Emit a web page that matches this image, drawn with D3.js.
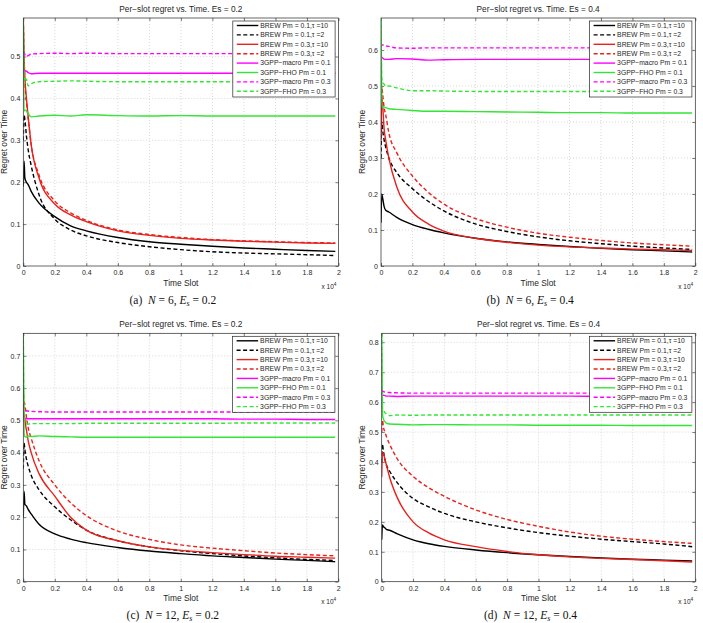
<!DOCTYPE html>
<html>
<head>
<meta charset="utf-8">
<script src="https://cdn.jsdelivr.net/npm/d3@7"></script>
<style>
  body { margin: 0; background: #fff; }
</style>
</head>
<body>
<div id="chart"></div>
<script>
'use strict';

// time slot sample points (units of 1e4)
const timeSlots = [0, 0.005, 0.01, 0.02, 0.03, 0.05, 0.1, 0.2, 0.3, 0.4, 0.6, 0.8, 1.0, 1.2, 1.4, 1.6, 1.8, 1.98];

const xTicks = [0, 0.2, 0.4, 0.6, 0.8, 1, 1.2, 1.4, 1.6, 1.8, 2];

const legendLabels = [
    "BREW Pm = 0.1,\u03c4 =10",
    "BREW Pm = 0.1,\u03c4 =2",
    "BREW Pm = 0.3,\u03c4 =10",
    "BREW Pm = 0.3,\u03c4 =2",
    "3GPP\u2212macro Pm = 0.1",
    "3GPP\u2212FHO Pm = 0.1",
    "3GPP\u2212macro Pm = 0.3",
    "3GPP\u2212FHO Pm = 0.3"
];

// (a) N = 6, Es = 0.2
const yTicksA = [0, 0.1, 0.2, 0.3, 0.4, 0.5];
const a_brew01t10 = [0.19, 0.25, 0.21, 0.2, 0.195, 0.178, 0.15, 0.118, 0.096, 0.084, 0.068, 0.058, 0.052, 0.047, 0.043, 0.04, 0.037, 0.035];
const a_brew01t2  = [0.3, 0.36, 0.35, 0.31, 0.28, 0.24, 0.17, 0.112, 0.086, 0.072, 0.056, 0.046, 0.039, 0.034, 0.031, 0.029, 0.027, 0.025];
const a_brew03t10 = [0.59, 0.5, 0.45, 0.4, 0.36, 0.29, 0.21, 0.148, 0.122, 0.106, 0.084, 0.073, 0.066, 0.062, 0.059, 0.057, 0.055, 0.054];
const a_brew03t2  = [0.59, 0.49, 0.44, 0.39, 0.355, 0.29, 0.217, 0.155, 0.127, 0.109, 0.086, 0.075, 0.068, 0.063, 0.06, 0.058, 0.056, 0.055];
const a_macro01   = [0.47, 0.465, 0.466, 0.465, 0.462, 0.459, 0.46, 0.46, 0.46, 0.46, 0.46, 0.46, 0.46, 0.46, 0.46, 0.46, 0.46, 0.46];
const a_fho01     = [0.59, 0.37, 0.372, 0.37, 0.365, 0.356, 0.358, 0.36, 0.358, 0.361, 0.359, 0.358, 0.359, 0.358, 0.358, 0.358, 0.358, 0.358];
const a_macro03   = [0.51, 0.51, 0.505, 0.5, 0.502, 0.506, 0.507, 0.508, 0.507, 0.508, 0.507, 0.507, 0.507, 0.507, 0.507, 0.507, 0.507, 0.507];
const a_fho03     = [0.59, 0.44, 0.447, 0.445, 0.43, 0.435, 0.44, 0.441, 0.442, 0.441, 0.44, 0.44, 0.44, 0.44, 0.44, 0.44, 0.44, 0.44];

// (b) N = 6, Es = 0.4
const yTicksB = [0, 0.1, 0.2, 0.3, 0.4, 0.5, 0.6];
const b_brew01t10 = [0.12, 0.2, 0.19, 0.165, 0.155, 0.15, 0.135, 0.115, 0.102, 0.092, 0.077, 0.067, 0.06, 0.054, 0.049, 0.045, 0.042, 0.039];
const b_brew01t2  = [0.3, 0.4, 0.38, 0.35, 0.33, 0.3, 0.26, 0.215, 0.18, 0.153, 0.117, 0.096, 0.081, 0.07, 0.062, 0.055, 0.05, 0.046];
const b_brew03t10 = [0.35, 0.47, 0.45, 0.38, 0.35, 0.3, 0.22, 0.15, 0.117, 0.097, 0.077, 0.066, 0.058, 0.053, 0.05, 0.047, 0.045, 0.043];
const b_brew03t2  = [0.4, 0.5, 0.48, 0.44, 0.42, 0.37, 0.315, 0.25, 0.205, 0.172, 0.132, 0.108, 0.091, 0.08, 0.071, 0.064, 0.059, 0.055];
const b_macro01   = [0.58, 0.58, 0.578, 0.575, 0.574, 0.574, 0.576, 0.575, 0.572, 0.573, 0.574, 0.574, 0.574, 0.574, 0.574, 0.574, 0.574, 0.574];
const b_fho01     = [0.69, 0.45, 0.44, 0.442, 0.44, 0.437, 0.435, 0.432, 0.43, 0.43, 0.429, 0.428, 0.427, 0.426, 0.426, 0.425, 0.425, 0.425];
const b_macro03   = [0.61, 0.615, 0.614, 0.615, 0.612, 0.61, 0.606, 0.605, 0.606, 0.606, 0.606, 0.606, 0.606, 0.606, 0.606, 0.606, 0.606, 0.606];
const b_fho03     = [0.69, 0.52, 0.51, 0.505, 0.5, 0.5, 0.495, 0.487, 0.487, 0.486, 0.485, 0.485, 0.485, 0.485, 0.485, 0.485, 0.485, 0.485];

// (c) N = 12, Es = 0.2
const yTicksC = [0, 0.1, 0.2, 0.3, 0.4, 0.5, 0.6, 0.7];
const c_brew01t10 = [0.2, 0.28, 0.24, 0.235, 0.225, 0.21, 0.178, 0.148, 0.132, 0.121, 0.106, 0.095, 0.087, 0.08, 0.075, 0.07, 0.066, 0.062];
const c_brew01t2  = [0.35, 0.43, 0.41, 0.38, 0.36, 0.33, 0.285, 0.232, 0.192, 0.16, 0.127, 0.108, 0.096, 0.087, 0.08, 0.074, 0.069, 0.066];
const c_brew03t10 = [0.55, 0.52, 0.5, 0.47, 0.44, 0.4, 0.335, 0.265, 0.2, 0.16, 0.127, 0.108, 0.097, 0.09, 0.084, 0.079, 0.076, 0.073];
const c_brew03t2  = [0.6, 0.56, 0.55, 0.51, 0.48, 0.445, 0.375, 0.3, 0.245, 0.205, 0.157, 0.131, 0.114, 0.104, 0.096, 0.089, 0.084, 0.08];
const c_macro01   = [0.52, 0.505, 0.506, 0.505, 0.505, 0.505, 0.505, 0.505, 0.505, 0.505, 0.505, 0.505, 0.505, 0.505, 0.504, 0.504, 0.503, 0.503];
const c_fho01     = [0.77, 0.46, 0.45, 0.448, 0.452, 0.45, 0.452, 0.45, 0.449, 0.448, 0.448, 0.448, 0.448, 0.448, 0.448, 0.448, 0.448, 0.448];
const c_macro03   = [0.55, 0.535, 0.532, 0.53, 0.529, 0.528, 0.527, 0.526, 0.526, 0.526, 0.526, 0.526, 0.526, 0.526, 0.526, 0.526, 0.526, 0.526];
const c_fho03     = [0.77, 0.5, 0.496, 0.49, 0.488, 0.49, 0.49, 0.49, 0.49, 0.491, 0.491, 0.491, 0.491, 0.491, 0.492, 0.492, 0.492, 0.492];

// (d) N = 12, Es = 0.4
const yTicksD = [0, 0.1, 0.2, 0.3, 0.4, 0.5, 0.6, 0.7, 0.8];
const d_brew01t10 = [0.14, 0.19, 0.185, 0.18, 0.175, 0.172, 0.16, 0.14, 0.127, 0.118, 0.106, 0.097, 0.09, 0.084, 0.079, 0.075, 0.072, 0.069];
const d_brew01t2  = [0.4, 0.46, 0.44, 0.41, 0.39, 0.37, 0.33, 0.278, 0.25, 0.228, 0.2, 0.18, 0.164, 0.152, 0.142, 0.134, 0.126, 0.117];
const d_brew03t10 = [0.35, 0.43, 0.43, 0.41, 0.39, 0.35, 0.28, 0.2, 0.163, 0.14, 0.117, 0.101, 0.09, 0.083, 0.078, 0.074, 0.07, 0.066];
const d_brew03t2  = [0.5, 0.54, 0.52, 0.5, 0.485, 0.46, 0.41, 0.352, 0.314, 0.285, 0.24, 0.208, 0.185, 0.166, 0.152, 0.142, 0.134, 0.128];
const d_macro01   = [0.63, 0.625, 0.623, 0.622, 0.62, 0.62, 0.619, 0.62, 0.62, 0.62, 0.62, 0.62, 0.62, 0.62, 0.619, 0.619, 0.618, 0.618];
const d_fho01     = [0.83, 0.56, 0.545, 0.535, 0.53, 0.527, 0.526, 0.524, 0.525, 0.525, 0.524, 0.524, 0.523, 0.523, 0.523, 0.522, 0.522, 0.522];
const d_macro03   = [0.64, 0.637, 0.635, 0.634, 0.633, 0.632, 0.631, 0.63, 0.63, 0.63, 0.63, 0.63, 0.63, 0.63, 0.63, 0.63, 0.63, 0.63];
const d_fho03     = [0.83, 0.58, 0.575, 0.565, 0.56, 0.555, 0.557, 0.556, 0.557, 0.557, 0.557, 0.557, 0.557, 0.557, 0.557, 0.557, 0.557, 0.557];

// line styles, same order as legendLabels
const RED = "#e8211d", GREEN = "#33e633", MAG = "#ff00ff", DASH = "4,2.5";
const lineStyles = [
    { color: "#000", dash: null }, { color: "#000", dash: DASH },
    { color: RED, dash: null },    { color: RED, dash: DASH },
    { color: MAG, dash: null },    { color: GREEN, dash: null },
    { color: MAG, dash: DASH },    { color: GREEN, dash: DASH }
];

const panels = [
    { key: "a", left: 23.3, right: 338.5, top: 18, bottom: 266, yMax: 0.592, yTicks: yTicksA, es: "0.2", n: "6",
      series: [a_brew01t10, a_brew01t2, a_brew03t10, a_brew03t2, a_macro01, a_fho01, a_macro03, a_fho03] },
    { key: "b", left: 381, right: 695.3, top: 18, bottom: 266, yMax: 0.689, yTicks: yTicksB, es: "0.4", n: "6",
      series: [b_brew01t10, b_brew01t2, b_brew03t10, b_brew03t2, b_macro01, b_fho01, b_macro03, b_fho03] },
    { key: "c", left: 23.3, right: 338.3, top: 333.3, bottom: 581.7, yMax: 0.77, yTicks: yTicksC, es: "0.2", n: "12",
      series: [c_brew01t10, c_brew01t2, c_brew03t10, c_brew03t2, c_macro01, c_fho01, c_macro03, c_fho03] },
    { key: "d", left: 381.7, right: 695.3, top: 333.3, bottom: 581.7, yMax: 0.83, yTicks: yTicksD, es: "0.4", n: "12",
      series: [d_brew01t10, d_brew01t2, d_brew03t10, d_brew03t2, d_macro01, d_fho01, d_macro03, d_fho03] }
];

const svg = d3.select("#chart").append("svg")
    .attr("width", 703)
    .attr("height", 623)
    .style("font-family", "'Liberation Sans', Arial, sans-serif");

const TXT = "#262626";

panels.forEach(p => {
    const x = d3.scaleLinear().domain([0, 2]).range([p.left, p.right]);
    const y = d3.scaleLinear().domain([0, p.yMax]).range([p.bottom, p.top]);
    const g = svg.append("g");

    g.append("clipPath").attr("id", "clip-" + p.key)
        .append("rect")
        .attr("x", p.left).attr("y", p.top)
        .attr("width", p.right - p.left).attr("height", p.bottom - p.top);

    // grid
    g.append("g").selectAll("line")
        .data(xTicks.slice(1, -1))
        .join("line")
        .attr("x1", d => x(d)).attr("x2", d => x(d))
        .attr("y1", p.top).attr("y2", p.bottom)
        .attr("stroke", "#bdbdbd").attr("stroke-width", 0.6).attr("stroke-dasharray", "1,2");
    g.append("g").selectAll("line")
        .data(p.yTicks.slice(1))
        .join("line")
        .attr("x1", p.left).attr("x2", p.right)
        .attr("y1", d => y(d)).attr("y2", d => y(d))
        .attr("stroke", "#bdbdbd").attr("stroke-width", 0.6).attr("stroke-dasharray", "1,2");

    // axes
    const fmt = d3.format("~g");
    const axB = g.append("g").attr("transform", `translate(0,${p.bottom})`)
        .call(d3.axisBottom(x).tickValues(xTicks).tickSize(-3).tickPadding(4).tickFormat(fmt));
    const axL = g.append("g").attr("transform", `translate(${p.left},0)`)
        .call(d3.axisLeft(y).tickValues(p.yTicks).tickSize(-3).tickPadding(3).tickFormat(fmt));
    const axT = g.append("g").attr("transform", `translate(0,${p.top})`)
        .call(d3.axisTop(x).tickValues(xTicks).tickSize(-3).tickFormat(""));
    const axR = g.append("g").attr("transform", `translate(${p.right},0)`)
        .call(d3.axisRight(y).tickValues(p.yTicks).tickSize(-3).tickFormat(""));
    [axB, axL, axT, axR].forEach(ax => {
        ax.select(".domain").remove();
        ax.selectAll(".tick line").attr("stroke", TXT).attr("stroke-width", 0.6);
        ax.selectAll("text").attr("fill", TXT).style("font-size", "7px").style("font-family", "'Liberation Sans', Arial, sans-serif");
    });

    // series
    const line = d3.line()
        .x((d, i) => x(timeSlots[i]))
        .y(d => y(d))
        .curve(d3.curveMonotoneX);
    g.append("g").attr("clip-path", `url(#clip-${p.key})`)
        .selectAll("path")
        .data(p.series)
        .join("path")
        .attr("d", line)
        .attr("fill", "none")
        .attr("stroke", (d, i) => lineStyles[i].color)
        .attr("stroke-width", 1.4)
        .attr("stroke-dasharray", (d, i) => lineStyles[i].dash);

    // box
    g.append("rect")
        .attr("x", p.left).attr("y", p.top)
        .attr("width", p.right - p.left).attr("height", p.bottom - p.top)
        .attr("fill", "none").attr("stroke", TXT).attr("stroke-width", 0.7);

    // title and labels
    const cx = (p.left + p.right) / 2;
    g.append("text")
        .attr("x", cx).attr("y", p.top - 6)
        .attr("text-anchor", "middle").attr("fill", TXT)
        .style("font-size", "8.3px")
        .text("Per\u2212slot regret vs. Time. Es = " + p.es);
    g.append("text")
        .attr("x", cx).attr("y", p.bottom + 19.5)
        .attr("text-anchor", "middle").attr("fill", TXT)
        .style("font-size", "8.4px")
        .text("Time Slot");
    const mult = g.append("text")
        .attr("x", p.right - 17).attr("y", p.bottom + 22.5)
        .attr("fill", TXT).style("font-size", "6.5px")
        .text("x 10");
    mult.append("tspan").attr("dy", -3).style("font-size", "4.8px").text("4");
    g.append("text")
        .attr("transform", `translate(${p.left - 16.5},${(p.top + p.bottom) / 2}) rotate(-90)`)
        .attr("text-anchor", "middle").attr("fill", TXT)
        .style("font-size", "8.4px")
        .text("Regret over Time");

    // legend
    const boxW = 102.3, boxH = 76;
    const lx = p.right - 3.4 - boxW, ly = p.top + 3;
    const leg = g.append("g").attr("transform", `translate(${lx},${ly})`);
    leg.append("rect")
        .attr("width", boxW).attr("height", boxH)
        .attr("fill", "#fff").attr("stroke", TXT).attr("stroke-width", 0.7);
    const rows = leg.selectAll("g.row")
        .data(legendLabels)
        .join("g")
        .attr("class", "row")
        .attr("transform", (d, i) => `translate(0,${4.5 + i * 9.4})`);
    rows.append("line")
        .attr("x1", 4).attr("x2", 25.5)
        .attr("stroke", (d, i) => lineStyles[i].color)
        .attr("stroke-width", 1.4)
        .attr("stroke-dasharray", (d, i) => lineStyles[i].dash);
    rows.append("text")
        .attr("x", 27.5).attr("dy", "0.35em")
        .attr("fill", TXT).style("font-size", "6.8px")
        .text(d => d);

    // caption
    const cap = svg.append("text")
        .attr("x", cx - 8).attr("y", p.bottom + 37.5)
        .attr("text-anchor", "middle")
        .style("font-family", "'Liberation Serif', 'Times New Roman', serif")
        .style("font-size", "11.5px")
        .attr("fill", "#111");
    cap.append("tspan").text(`(${p.key})\u2002`);
    cap.append("tspan").style("font-style", "italic").text("N");
    cap.append("tspan").text(` = ${p.n}, `);
    cap.append("tspan").style("font-style", "italic").text("E");
    cap.append("tspan").style("font-style", "italic").style("font-size", "8px").attr("dy", 2).text("s");
    cap.append("tspan").attr("dy", -2).text(` = ${p.es}`);
});
</script>
</body>
</html>
